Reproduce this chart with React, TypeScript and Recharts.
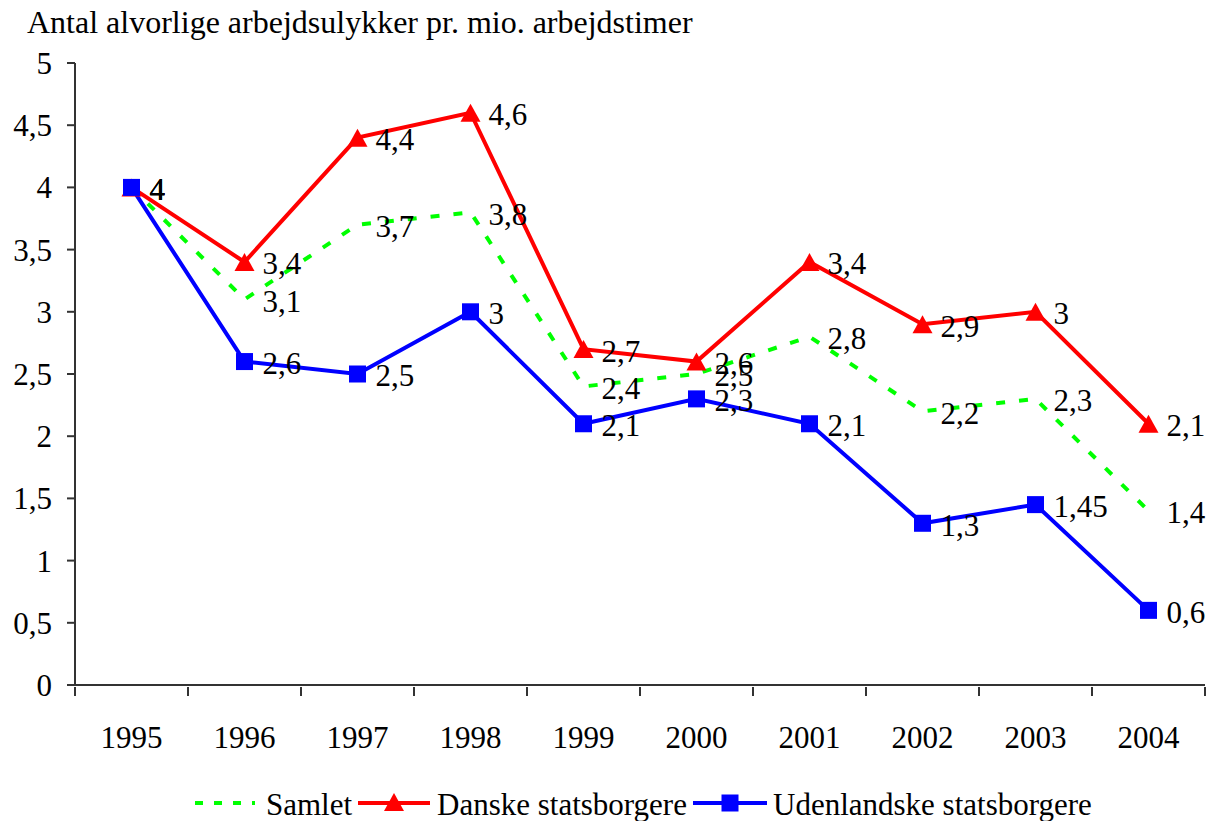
import React from "react";
import { Legend, Line, LineChart, XAxis, YAxis } from "recharts";

const years = ["1995", "1996", "1997", "1998", "1999", "2000", "2001", "2002", "2003", "2004"];
const samlet = [4, 3.1, 3.7, 3.8, 2.4, 2.5, 2.8, 2.2, 2.3, 1.4];
const danske = [4, 3.4, 4.4, 4.6, 2.7, 2.6, 3.4, 2.9, 3, 2.1];
const udenlandske = [4, 2.6, 2.5, 3, 2.1, 2.3, 2.1, 1.3, 1.45, 0.6];
const yTicks = [0, 0.5, 1, 1.5, 2, 2.5, 3, 3.5, 4, 4.5, 5];

const data = years.map((year, i) => ({
  year,
  samlet: samlet[i],
  danske: danske[i],
  udenlandske: udenlandske[i],
}));

const FONT = "Liberation Serif";
const FS = 31;
const GREEN = "#00ff00";
const RED = "#ff0000";
const BLUE = "#0000ff";
const AXIS = "#333333";
const STEP = 113;
const DASH = "9 14";

const comma = (v: number) => String(v).replace(".", ",");

const ValueLabel = (props: any) => {
  const { x, y, value } = props;
  return (
    <text x={x + 18} y={y} dy="0.4em" fontSize={FS} fontFamily={FONT} fill="#000">
      {comma(value)}
    </text>
  );
};

const Triangle = (props: any) => {
  const { cx, cy } = props;
  if (cx == null || cy == null) return null;
  return <path d={`M${cx},${cy - 9} L${cx + 10},${cy + 9} L${cx - 10},${cy + 9} Z`} fill={RED} />;
};

const Square = (props: any) => {
  const { cx, cy } = props;
  if (cx == null || cy == null) return null;
  return <rect x={cx - 8.5} y={cy - 8.5} width={17} height={17} fill={BLUE} />;
};

const YearTick = (props: any) => {
  const { x, y, payload, index } = props;
  return (
    <g>
      <line x1={x - STEP / 2} y1={y} x2={x - STEP / 2} y2={y + 9} stroke={AXIS} strokeWidth={2} />
      {index === years.length - 1 && (
        <line x1={x + STEP / 2} y1={y} x2={x + STEP / 2} y2={y + 9} stroke={AXIS} strokeWidth={2} />
      )}
      <text x={x} y={y + 61} textAnchor="middle" fontSize={FS} fontFamily={FONT} fill="#000">
        {payload.value}
      </text>
    </g>
  );
};

const LegendContent = () => (
  <svg width={1208} height={40}>
    <g fontFamily={FONT} fontSize={FS} fill="#000">
      <line x1={195} y1={22} x2={255} y2={22} stroke={GREEN} strokeWidth={4} strokeDasharray="8 11" />
      <text x={266} y={34}>Samlet</text>
      <line x1={358} y1={22} x2={430} y2={22} stroke={RED} strokeWidth={4} />
      <Triangle cx={394} cy={21} />
      <text x={437} y={34}>Danske statsborgere</text>
      <line x1={693} y1={22} x2={767} y2={22} stroke={BLUE} strokeWidth={4} />
      <Square cx={730} cy={22} />
      <text x={773} y={34}>Udenlandske statsborgere</text>
    </g>
  </svg>
);

export default function App() {
  return (
    <div style={{ position: "absolute", left: 0, top: 0, width: 1208, height: 821, background: "#fff" }}>
      <div
        style={{
          position: "absolute",
          left: 27,
          top: 6,
          fontFamily: FONT,
          fontSize: 32,
          lineHeight: 1,
          color: "#000",
          whiteSpace: "nowrap",
        }}
      >
        Antal alvorlige arbejdsulykker pr. mio. arbejdstimer
      </div>
      <LineChart
        width={1208}
        height={821}
        data={data}
        margin={{ top: 63, right: 3, bottom: 0, left: 0 }}
      >
        <XAxis
          dataKey="year"
          axisLine={{ stroke: AXIS, strokeWidth: 2 }}
          tickLine={false}
          tickSize={0}
          tick={<YearTick />}
          height={96}
          interval={0}
          padding={{ left: STEP / 2, right: STEP / 2 }}
        />
        <YAxis
          domain={[0, 5]}
          ticks={yTicks}
          width={75}
          axisLine={{ stroke: AXIS, strokeWidth: 2 }}
          tickLine={{ stroke: AXIS, strokeWidth: 2 }}
          tickSize={8}
          tickMargin={15}
          tickFormatter={comma}
          tick={{ fontSize: FS, fontFamily: FONT, fill: "#000" }}
        />
        <Legend verticalAlign="bottom" height={40} content={<LegendContent />} />
        <Line
          dataKey="samlet"
          name="Samlet"
          stroke={GREEN}
          strokeWidth={4}
          strokeDasharray={DASH}
          dot={false}
          label={<ValueLabel />}
          isAnimationActive={false}
        />
        <Line
          dataKey="danske"
          name="Danske statsborgere"
          stroke={RED}
          strokeWidth={4}
          dot={<Triangle />}
          label={<ValueLabel />}
          isAnimationActive={false}
        />
        <Line
          dataKey="udenlandske"
          name="Udenlandske statsborgere"
          stroke={BLUE}
          strokeWidth={4}
          dot={<Square />}
          label={<ValueLabel />}
          isAnimationActive={false}
        />
      </LineChart>
    </div>
  );
}
